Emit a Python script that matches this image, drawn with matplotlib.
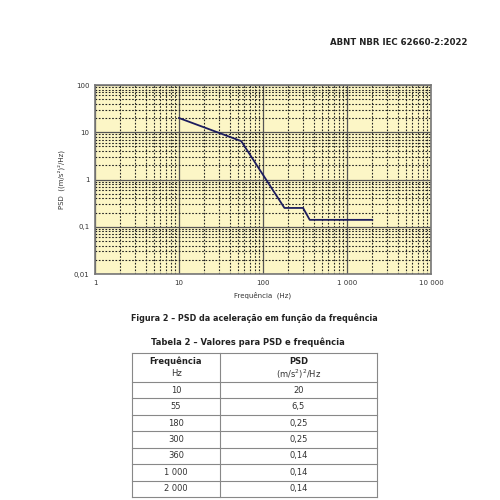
import matplotlib
matplotlib.use("Agg")
import matplotlib.pyplot as plt
from matplotlib.ticker import LogLocator, NullFormatter

freq = [10, 55, 180, 300, 360, 1000, 2000]
psd = [20, 6.5, 0.25, 0.25, 0.14, 0.14, 0.14]
freq_labels = ["10", "55", "180", "300", "360", "1 000", "2 000"]
psd_labels = ["20", "6,5", "0,25", "0,25", "0,14", "0,14", "0,14"]
xticks = [1, 10, 100, 1000, 10000]
xticklabels = ["1", "10", "100", "1 000", "10 000"]
yticks = [0.01, 0.1, 1, 10, 100]
yticklabels = ["0,01", "0,1", "1", "10", "100"]

fig = plt.figure(figsize=(5, 5), dpi=100)
ax = fig.add_axes([0.19, 0.452, 0.672, 0.378])
ax.set_facecolor("#fcf6c6")
ax.plot(freq, psd, color="#1c1c5e", lw=1.3, zorder=3)
ax.set_xscale("log"); ax.set_yscale("log")
ax.set_xlim(1, 10000); ax.set_ylim(0.01, 100)
ax.set_xticks(xticks); ax.set_xticklabels(xticklabels)
ax.set_yticks(yticks); ax.set_yticklabels(yticklabels)
ax.xaxis.set_minor_locator(LogLocator(subs=range(2, 10)))
ax.yaxis.set_minor_locator(LogLocator(subs=range(2, 10)))
ax.xaxis.set_minor_formatter(NullFormatter()); ax.yaxis.set_minor_formatter(NullFormatter())
ax.grid(which="major", color="#555555", lw=0.9)
ax.grid(which="minor", color="#222222", lw=0.8, ls=(0, (1.5, 1.5)))
ax.tick_params(which="both", length=0, labelsize=5, colors="#333333", pad=4)
for s in ax.spines.values():
    s.set_color("#777777"); s.set_linewidth(1.2)
ax.set_xlabel("Frequência  (Hz)", fontsize=5, color="#333333", labelpad=4)
ax.set_ylabel("PSD  ((m/s²)²/Hz)", fontsize=5, color="#333333", labelpad=6)

fig.text(0.934, 0.915, "ABNT NBR IEC 62660-2:2022", ha="right", va="center", fontsize=6.2, weight="bold", color="#222222")
fig.text(0.508, 0.364, "Figura 2 – PSD da aceleração em função da frequência", ha="center", va="center", fontsize=5.8, weight="bold", color="#222222")
fig.text(0.495, 0.316, "Tabela 2 – Valores para PSD e frequência", ha="center", va="center", fontsize=6.0, weight="bold", color="#222222")

L, M, R = 132/500, 220/500, 377/500
top, hb, bot = 1-353/500, 1-382/500, 1-497/500
rh = (hb - bot) / len(freq)
lc = "#888888"
for y in [top, hb] + [hb - rh*(i+1) for i in range(len(freq))]:
    fig.add_artist(plt.Line2D([L, R], [y, y], color=lc, lw=0.8))
for x in [L, M, R]:
    fig.add_artist(plt.Line2D([x, x], [top, bot], color=lc, lw=0.8))
c1, c2 = (L+M)/2, (M+R)/2
fig.text(c1, top-(top-hb)*0.3, "Frequência", ha="center", va="center", fontsize=6, weight="bold", color="#222222")
fig.text(c1, top-(top-hb)*0.72, "Hz", ha="center", va="center", fontsize=6, color="#333333")
fig.text(c2, top-(top-hb)*0.3, "PSD", ha="center", va="center", fontsize=6, weight="bold", color="#222222")
fig.text(c2, top-(top-hb)*0.72, "(m/s$^2$)$^2$/Hz", ha="center", va="center", fontsize=6, color="#333333")
for i, (f, p) in enumerate(zip(freq_labels, psd_labels)):
    y = hb - rh*(i+0.5)
    fig.text(c1, y, f, ha="center", va="center", fontsize=6, color="#333333")
    fig.text(c2, y, p, ha="center", va="center", fontsize=6, color="#333333")

fig.savefig("out.png", dpi=100, facecolor="white")
